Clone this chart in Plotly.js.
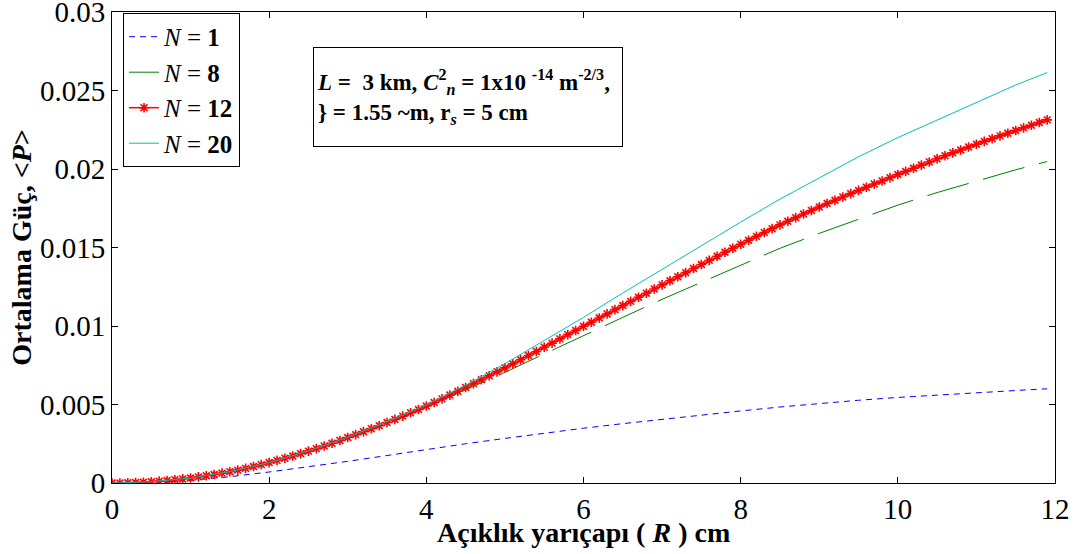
<!DOCTYPE html>
<html>
<head>
<meta charset="utf-8">
<script src="https://cdn.plot.ly/plotly-3.0.1.min.js"></script>
<style>html,body{margin:0;padding:0;background:#fff;}#chart{width:1076px;height:554px;}</style>
</head>
<body>
<div id="chart"></div>
<script>
// Aperture radius R (cm)
const rCoarse = [0,0.5,1,1.5,2,2.5,3,3.5,4,4.5,5,5.5,6,6.5,7,7.5,8,8.5,9,9.5,10,10.5,11,11.5,11.9];
const rFine = [0,0.1,0.2,0.3,0.4,0.5,0.6,0.7,0.8,0.9,1,1.1,1.2,1.3,1.4,1.5,1.6,1.7,1.8,1.9,2,2.1,2.2,2.3,2.4,2.5,2.6,2.7,2.8,2.9,3,3.1,3.2,3.3,3.4,3.5,3.6,3.7,3.8,3.9,4,4.1,4.2,4.3,4.4,4.5,4.6,4.7,4.8,4.9,5,5.1,5.2,5.3,5.4,5.5,5.6,5.7,5.8,5.9,6,6.1,6.2,6.3,6.4,6.5,6.6,6.7,6.8,6.9,7,7.1,7.2,7.3,7.4,7.5,7.6,7.7,7.8,7.9,8,8.1,8.2,8.3,8.4,8.5,8.6,8.7,8.8,8.9,9,9.1,9.2,9.3,9.4,9.5,9.6,9.7,9.8,9.9,10,10.1,10.2,10.3,10.4,10.5,10.6,10.7,10.8,10.9,11,11.1,11.2,11.3,11.4,11.5,11.6,11.7,11.8,11.9];

// Average power <P>
const pN1 = [0,0.00003,0.00017,0.00040,0.00070,0.00103,0.00138,0.00175,0.00214,0.00250,0.00284,0.00317,0.00349,0.00378,0.00406,0.00433,0.00459,0.00484,0.00507,0.00527,0.00545,0.00561,0.00576,0.00589,0.00600];
const pN8 = [0,0.00008,0.00032,0.00072,0.00129,0.00202,0.00288,0.00382,0.00482,0.00592,0.00705,0.00822,0.00940,0.01055,0.01170,0.01280,0.01388,0.01495,0.01590,0.01680,0.01770,0.01850,0.01925,0.01995,0.02048];
const pN12 = [0,0,0.00001,0.00003,0.00005,0.00008,0.00012,0.00016,0.00021,0.00026,0.00032,0.00039,0.00046,0.00054,0.00063,0.00072,0.00082,0.00093,0.00105,0.00117,0.00130,0.00144,0.00158,0.00172,0.00187,0.00203,0.00219,0.00236,0.00253,0.00271,0.00290,0.00308,0.00327,0.00346,0.00365,0.00385,0.00405,0.00426,0.00447,0.00468,0.00490,0.00513,0.00536,0.00560,0.00584,0.00608,0.00633,0.00658,0.00683,0.00708,0.00733,0.00759,0.00785,0.00812,0.00838,0.00865,0.00891,0.00918,0.00945,0.00971,0.00998,0.01024,0.01051,0.01077,0.01104,0.01130,0.01157,0.01183,0.01209,0.01236,0.01262,0.01288,0.01314,0.01340,0.01366,0.01392,0.01418,0.01444,0.01470,0.01495,0.01521,0.01546,0.01571,0.01596,0.01620,0.01644,0.01667,0.01690,0.01713,0.01736,0.01758,0.01780,0.01801,0.01822,0.01843,0.01864,0.01884,0.01904,0.01924,0.01945,0.01965,0.01985,0.02005,0.02025,0.02045,0.02065,0.02084,0.02103,0.02121,0.02140,0.02158,0.02176,0.02193,0.02211,0.02228,0.02245,0.02262,0.02279,0.02296,0.02313];
const pN20 = [0,0.00008,0.00032,0.00072,0.00130,0.00204,0.00292,0.00390,0.00498,0.00622,0.00760,0.00905,0.01055,0.01210,0.01362,0.01512,0.01662,0.01808,0.01945,0.02078,0.02200,0.02312,0.02420,0.02535,0.02614];

const yTickVals = [0,0.005,0.01,0.015,0.02,0.025,0.03];
const yTickText = ['0','0.005','0.01','0.015','0.02','0.025','0.03'];
const xTickVals = [0,2,4,6,8,10,12];
const xTickText = ['0','2','4','6','8','10','12'];

const legendNames = ['<i>N</i> = <b>1</b>','<i>N</i> = <b>8</b>','<i>N</i> = <b>12</b>','<i>N</i> = <b>20</b>'];
const xTitle = '<b>Açıklık yarıçapı ( <i>R</i> ) cm</b>';
const yTitle = '<b>Ortalama Güç, &lt;<i>P</i>&gt;</b>';
const noteText = '<b><i>L</i> =  3 km, <i>C</i><sup>2</sup><sub><i>n</i></sub> = 1x10 <sup>-14</sup> m<sup>-2/3</sup>,</b><br><b>} = 1.55 ~m, r<sub><i>s</i></sub> = 5 cm</b>';

const serif = 'Liberation Serif, Times New Roman, serif';

const traces = [
  {x: rCoarse, y: pN1, name: legendNames[0], type: 'scatter', mode: 'lines',
   line: {color: 'rgb(0,0,255)', width: 1, dash: '6px,5px'}},
  {x: rCoarse, y: pN8, name: legendNames[1], type: 'scatter', mode: 'lines',
   line: {color: 'rgb(0,128,0)', width: 1, dash: '43px,15px'}},
  {x: rFine, y: pN12, name: legendNames[2], type: 'scatter', mode: 'lines+markers',
   line: {color: 'rgb(255,0,0)', width: 1.5},
   marker: {symbol: 'asterisk-open', size: 8, color: 'rgb(255,0,0)', line: {color: 'rgb(255,0,0)', width: 1.6}}},
  {x: rCoarse, y: pN20, name: legendNames[3], type: 'scatter', mode: 'lines',
   line: {color: 'rgb(0,191,191)', width: 1}}
];

const axisCommon = {
  showgrid: false, zeroline: false, showline: true, linecolor: '#000', linewidth: 1,
  mirror: 'ticks', ticks: 'inside', ticklen: 6, tickwidth: 1, tickcolor: '#000',
  tickfont: {family: serif, size: 29, color: '#000'}, ticklabeloverflow: 'allow'
};

const layout = {
  width: 1076, height: 554,
  margin: {l: 112, r: 21, t: 12, b: 71},
  paper_bgcolor: '#fff', plot_bgcolor: '#fff',
  font: {family: serif, color: '#000'},
  xaxis: Object.assign({}, axisCommon, {
    range: [0, 12], tickmode: 'array', tickvals: xTickVals, ticktext: xTickText,
    automargin: false
  }),
  yaxis: Object.assign({}, axisCommon, {
    range: [0, 0.0300001], tickmode: 'array', tickvals: yTickVals, ticktext: yTickText,
    automargin: false,
    title: {text: yTitle, font: {family: serif, size: 28, color: '#000'}, standoff: 0}
  }),
  showlegend: true,
  legend: {
    x: 0.0117, y: 0.998, xanchor: 'left', yanchor: 'top',
    bgcolor: '#fff', bordercolor: '#000', borderwidth: 1,
    font: {family: serif, size: 25, color: '#000'},
    itemwidth: 30, tracegroupgap: 0
  },
  annotations: [
    {
      text: noteText, xref: 'paper', yref: 'paper',
      x: 0.213, y: 0.926, xanchor: 'left', yanchor: 'top',
      align: 'left', showarrow: false,
      font: {family: serif, size: 23, color: '#000'},
      bordercolor: '#000', borderwidth: 1, borderpad: 3, bgcolor: '#fff',
      width: 302, height: 92
    },
    {
      text: xTitle, xref: 'paper', yref: 'paper',
      x: 0.5, y: -0.106, xanchor: 'center', yanchor: 'middle', showarrow: false,
      font: {family: serif, size: 28, color: '#000'}
    }
  ]
};

Plotly.newPlot('chart', traces, layout, {displayModeBar: false, staticPlot: true});
</script>
</body>
</html>
